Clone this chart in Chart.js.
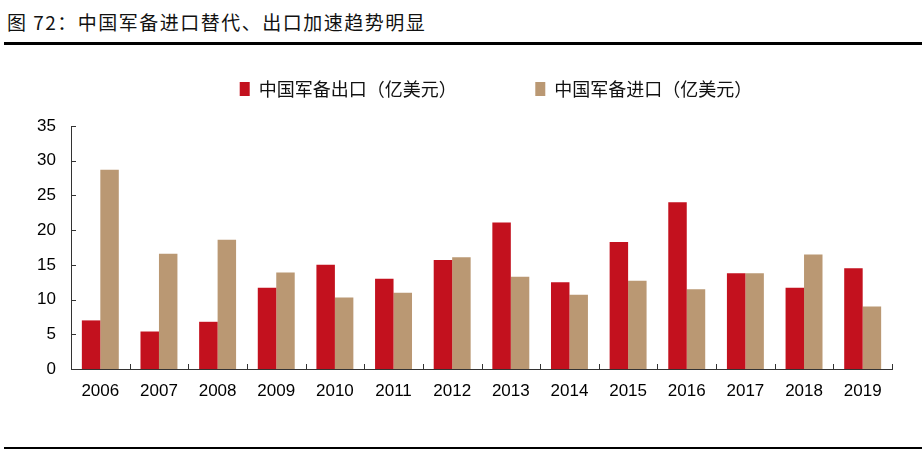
<!DOCTYPE html>
<html>
<head>
<meta charset="utf-8">
<script src="https://cdn.jsdelivr.net/npm/chart.js@4"></script>
<style>
  html, body { margin: 0; padding: 0; background: #fff; }
  #wrap { position: relative; width: 922px; height: 451px; overflow: hidden; }
  #title {
    position: absolute; left: 7px; top: 8px;
    font-family: "Noto Sans CJK SC", sans-serif; font-size: 19px; color: #111;
    letter-spacing: 1.5px; white-space: nowrap;
  }
  .rule { position: absolute; left: 4px; right: 0; background: #000; }
  canvas { position: absolute; left: 0; top: 0; }
</style>
</head>
<body>
<div id="wrap">
  <div id="title">图 72：中国军备进口替代、出口加速趋势明显</div>
  <div class="rule" style="top:42px;height:3px"></div>
  <div class="rule" style="top:447px;height:2px"></div>
  <canvas id="chart" width="922" height="451"></canvas>
</div>
<script>
// Data
const years = ['2006', '2007', '2008', '2009', '2010', '2011', '2012', '2013', '2014', '2015', '2016', '2017', '2018', '2019'];
const exportValues = [7.0, 5.4, 6.8, 11.7, 15.0, 13.0, 15.7, 21.1, 12.5, 18.3, 24.0, 13.8, 11.7, 14.5];
const importValues = [28.7, 16.6, 18.6, 13.9, 10.3, 11.0, 16.1, 13.3, 10.7, 12.7, 11.5, 13.8, 16.5, 9.0];
const seriesNames = ['中国军备出口（亿美元）', '中国军备进口（亿美元）'];
const yTicks = [0, 5, 10, 15, 20, 25, 30, 35];

const axisColor = '#333';

// short ticks drawn inside the plot, like the original
const innerTicks = {
  id: 'innerTicks',
  afterDraw(chart) {
    const ctx = chart.ctx;
    const x = chart.scales.x, y = chart.scales.y;
    ctx.save();
    ctx.strokeStyle = axisColor;
    ctx.lineWidth = 1;
    ctx.beginPath();
    yTicks.forEach(v => {
      const py = Math.round(y.getPixelForValue(v)) + 0.5;
      ctx.moveTo(x.left, py);
      ctx.lineTo(x.left + 5, py);
    });
    for (let i = 1; i <= years.length; i++) {
      const px = Math.round(x.getPixelForValue(i - 0.5)) + 0.5;
      ctx.moveTo(px, y.bottom);
      ctx.lineTo(px, y.bottom - 5);
    }
    ctx.stroke();
    ctx.restore();
  }
};

// fixed legend height so the plot starts where it should, and nudge it right
const legendPlace = {
  id: 'legendPlace',
  beforeInit(chart) {
    const fit = chart.legend.fit;
    chart.legend.fit = function () {
      fit.bind(chart.legend)();
      this.height = 52;
    };
  },
  afterLayout(chart) {
    chart.legend.left += 50;
    chart.legend.right += 50;
  }
};

const ctx = document.getElementById('chart').getContext('2d');
const chart = new Chart(ctx, {
  type: 'bar',
  data: {
    labels: years,
    datasets: [{
      label: seriesNames[0] + '                  ',
      data: exportValues,
      backgroundColor: '#C3111E',
      barPercentage: 1,
      categoryPercentage: 0.63
    }, {
      label: seriesNames[1],
      data: importValues,
      backgroundColor: '#BA9873',
      barPercentage: 1,
      categoryPercentage: 0.63
    }]
  },
  options: {
    responsive: false,
    animation: false,
    devicePixelRatio: 1,
    layout: { padding: { top: 74, left: 0, right: 30, bottom: 0 } },
    plugins: {
      legend: {
        position: 'top',
        labels: {
          boxWidth: 10,
          boxHeight: 14,
          padding: 6,
          color: '#111',
          font: { family: '"Noto Sans CJK SC", sans-serif', size: 18 }
        }
      },
      tooltip: { enabled: false }
    },
    scales: {
      x: {
        grid: { display: false, drawTicks: false },
        border: { color: axisColor, width: 1 },
        ticks: {
          padding: 12,
          color: '#000',
          maxRotation: 0,
          font: { family: '"Liberation Sans", Arial, sans-serif', size: 17 }
        },
        afterFit(scale) { scale.height = 82; }
      },
      y: {
        min: 0,
        max: 35,
        grid: { display: false, drawTicks: false },
        border: { color: axisColor, width: 1 },
        ticks: {
          stepSize: 5,
          padding: 15,
          color: '#000',
          font: { family: '"Liberation Sans", Arial, sans-serif', size: 17 }
        },
        afterBuildTicks(scale) { scale.ticks = yTicks.map(v => ({ value: v })); },
        afterFit(scale) { scale.width = 71; }
      }
    }
  },
  plugins: [innerTicks, legendPlace]
});
</script>
</body>
</html>
